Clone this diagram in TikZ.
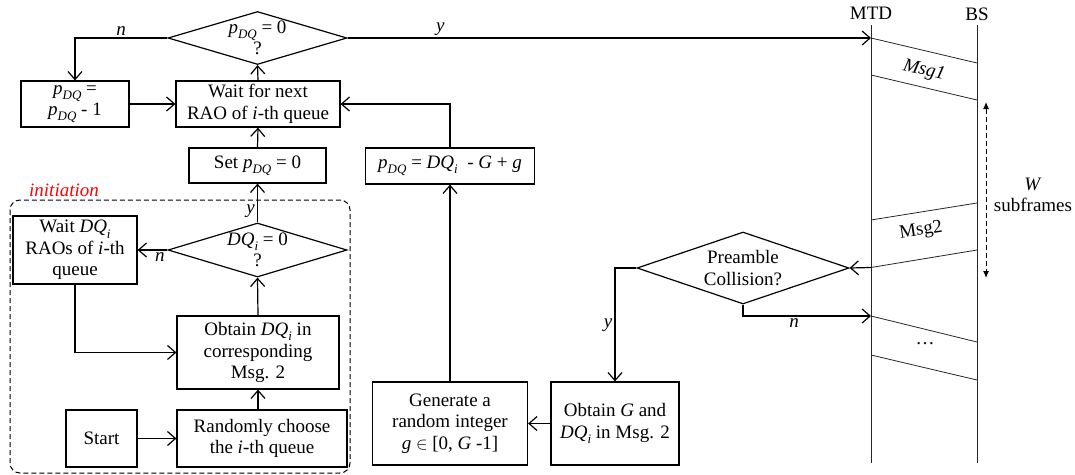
\documentclass[tikz,border=0pt]{standalone}
\usepackage{fontspec}
\setmainfont{Liberation Serif}
\usetikzlibrary{arrows.meta,shapes.geometric}

% italic symbols with lowered subscripts
\newcommand\sub[1]{\raisebox{-0.28em}{\fontsize{13}{13}\selectfont\textit{#1}}}
\newcommand\pdq{\textit{p}\sub{DQ}}
\newcommand\dqi{\textit{DQ}\sub{i}}

\begin{document}
\begin{tikzpicture}[x=1pt,y=-1pt,
  every node/.style={font=\fontsize{19}{21.5}\selectfont},
  box/.style={draw,line width=1.2pt,align=center,inner sep=0pt},
  decision/.style={draw,diamond,line width=1.2pt,inner sep=0pt},
  arr/.style={line width=1.2pt,-{Straight Barb[length=8pt,width=14pt,line width=1.2pt]}},
  lab/.style={font=\fontsize{19}{21.5}\selectfont\itshape,inner sep=2pt},
  seq/.style={line width=0.8pt,black!85},
  frame/.style={dashed,dash pattern=on 5pt off 3pt,line width=1pt,rounded corners=10pt}]

\useasboundingbox (0,0) rectangle (1075,474);

% ---------- main loop ----------
\node[decision,minimum width=179pt,minimum height=53pt,
      label={[align=center]center:\pdq\ = 0\\?}] (d1) at (257.5,38) {};
\node[box,minimum width=108pt,minimum height=46pt] (b1) at (75,104) {\pdq\ =\\\pdq\ - 1};
\node[box,minimum width=164pt,minimum height=46pt] (wait) at (258,104) {Wait for next\\RAO of \textit{i}-th queue};
\node[box,minimum width=137pt,minimum height=35pt] (set) at (257.5,165.5) {Set \pdq\ = 0};
\node[box,minimum width=169pt,minimum height=36pt] (upd) at (450,166) {\pdq\ = \dqi~ - \textit{G} + \textit{g}};
\node[box,minimum width=155pt,minimum height=83pt] (gen) at (450,423.5) {Generate a\\random integer\\\textit{g} $\in$ [0, \textit{G} -1]};
\node[box,minimum width=128pt,minimum height=83pt] (obtg) at (615,423.5) {Obtain \textit{G} and\\\dqi\ in Msg. 2};
\node[decision,minimum width=212pt,minimum height=72pt,
      label={[align=center]center:Preamble\\Collision?}] (pc) at (743,268) {};

% ---------- initiation ----------
\draw[frame] (10,200) rectangle (350,473);
\node[lab,text=red] (init) at (64,190) {initiation};
\node[decision,minimum width=179pt,minimum height=54pt,
      label={[align=center]center:\dqi\ = 0\\?}] (d2) at (257.5,250) {};
\node[box,minimum width=124pt,minimum height=68pt] (waitdq) at (75,250) {Wait \dqi\\RAOs of \textit{i}-th\\queue};
\node[box,minimum width=162pt,minimum height=73pt] (obtdq) at (258,352.5) {Obtain \dqi\ in\\corresponding\\Msg. 2};
\node[box,minimum width=71pt,minimum height=57pt] (start) at (101.5,438.5) {Start};
\node[box,minimum width=170pt,minimum height=57pt] (rand) at (262,438.5) {Randomly choose\\the \textit{i}-th queue};

% ---------- MTD / BS timeline ----------
\node (mtd) at (871,13) {MTD};
\node (bs) at (977,14) {BS};
\coordinate (mtdtop) at (871,25);
\coordinate (mtdbot) at (871,463);
\coordinate (bstop) at (977,25);
\coordinate (bsbot) at (977,463);
\draw[seq] (mtdtop) -- (mtdbot);
\draw[seq] (bstop) -- (bsbot);

\coordinate (m1a) at (871,38);  \coordinate (b1a) at (977,63);
\coordinate (m1b) at (871,75);  \coordinate (b1b) at (977,100);
\draw[seq] (m1a) -- (b1a);
\draw[seq] (m1b) -- (b1b);
\node[lab,rotate=-13] (msg1) at (924,71) {Msg1};

\coordinate (b2a) at (977,203); \coordinate (m2a) at (871,220);
\coordinate (b2b) at (977,250); \coordinate (m2b) at (871,267.5);
\draw[seq] (b2a) -- (m2a);
\draw[seq] (b2b) -- (m2b);
\node[rotate=9] (msg2) at (921,231) {Msg2};

\coordinate (m3a) at (871,316); \coordinate (b3a) at (977,342);
\coordinate (m3b) at (871,355); \coordinate (b3b) at (977,380);
\draw[seq] (m3a) -- (b3a);
\draw[seq] (m3b) -- (b3b);
\node (dots) at (925,344) {\dots};

\coordinate (wtop) at (986,102);
\coordinate (wbot) at (986,278);
\draw[dashed,dash pattern=on 5pt off 3pt,line width=1pt,
      {Latex[length=7pt,width=6pt]}-{Latex[length=7pt,width=6pt]}] (wtop) -- (wbot);
\node[align=center] (wlab) at (1033,195) {\textit{W}\\subframes};

% ---------- connectors ----------
\draw[arr] (d1.west) -| node[lab,pos=0.25,above]{n} (b1.north);
\draw[arr] (d1.east) -- node[lab,pos=0.177,above]{y} (m1a);
\draw[arr] (b1.east) -- (wait.west);
\draw[arr] (wait.north) -- (d1.south);
\draw[arr] (set.north) -- (wait.south);
\draw[arr] (upd.north) |- (wait.east);
\draw[arr] (gen.north) -- (upd.south);
\draw[arr] (obtg.west) -- (gen.east);
\draw[arr] (m2b) -- (pc.east);
\draw[arr] (pc.west) -| node[lab,pos=0.75,left]{y} (obtg.north);
\draw[arr] (pc.south) |- node[lab,pos=0.7,below]{n} (m3a);

\draw[arr] (d2.north) -- node[lab,pos=0.3,left]{y} (set.south);
\draw[arr] (d2.west) -- node[lab,pos=0.25,below]{n} (waitdq.east);
\draw[arr] (obtdq.north) -- (d2.south);
\draw[arr] (waitdq.south) |- (obtdq.west);
\draw[arr] (start.east) -- (rand.west);
\draw[arr] (rand.north -| obtdq.south) -- (obtdq.south);
\end{tikzpicture}
\end{document}
